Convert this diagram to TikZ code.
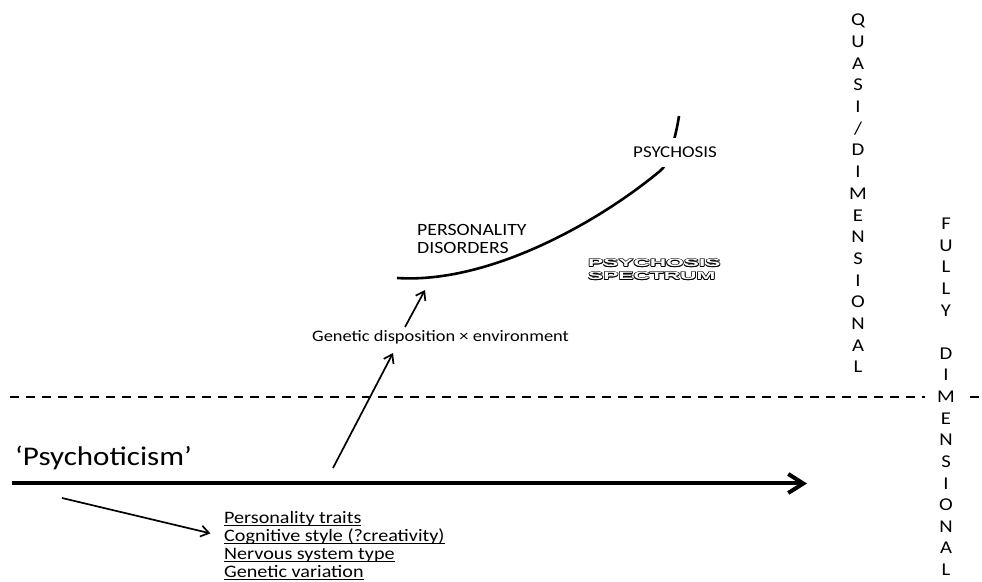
\documentclass[tikz,border=0pt]{standalone}
\usepackage{fontspec}
\setmainfont{Carlito}[FakeStretch=1.15]
\newfontfamily\hollowfont{Liberation Sans}[FakeStretch=2.1]
\usetikzlibrary{arrows.meta}
\newsavebox\ulbox
\newcommand{\uln}[1]{\sbox\ulbox{#1}\rlap{\rule[-2.4pt]{\wd\ulbox}{0.9pt}}\usebox\ulbox}
\tikzset{
	axisline/.style={line width=4pt, -{Straight Barb[length=15pt,width=19pt]}},
	thinarrow/.style={line width=1.7pt, -{Straight Barb[length=8pt,width=11pt]}},
	curveline/.style={line width=2.6pt},
	divider/.style={line width=1.4pt, dash pattern=on 9pt off 7pt},
	lab/.style={inner sep=0pt, font=\fontsize{#1}{#1}\selectfont},
	hollowtxt/.style={inner sep=0pt, anchor=base west, font=\hollowfont\bfseries\fontsize{10.8}{10.8}\selectfont},
	vlet/.style={inner sep=0pt, text height=11.6pt, text depth=0pt, font=\fontsize{18}{18}\selectfont},
}
\begin{document}
\begin{tikzpicture}[x=1pt,y=1pt]
				\useasboundingbox (0,0) rectangle (982,581);
				
				% dashed divider
				\coordinate (dl) at (10,184);
				\coordinate (dr) at (982,184);
				\draw[divider] (dl)--(dr);
				
				% axis
				\coordinate (ax0) at (12,97.5);
				\coordinate (ax1) at (807,97.5);
				\draw[axisline] (ax0)--(ax1);
				\node[lab=27, anchor=base west] (psy) at (15,115) {`Psychoticism'};
				
				% list below the axis
				\foreach \n/\t/\y in
				{per/Personality traits/57.5, cog/Cognitive style (?creativity)/39.5,
				 ner/Nervous system type/21.5, gen/Genetic variation/3.5}{
					\node[lab=17.5, anchor=base west] (\n) at (224,\y) {\uln{\t}};
				}
				\coordinate (ls0) at (62,83);
				\draw[thinarrow, shorten >=14pt] (ls0)--(cog.west);
				
				% upward arrows
				\node[lab=16, anchor=base west] (gxe) at (312,239) {Genetic disposition × environment};
				\coordinate (up0) at (333,113);
				\coordinate (up1) at (393,228);
				\coordinate (up2) at (405,254);
				\coordinate (up3) at (425,291);
				\draw[thinarrow] (up0)--(up1);
				\draw[thinarrow] (up2)--(up3);
				
				% spectrum curve
				\coordinate (cv0) at (397,303);
				\coordinate (cv1) at (679,465);
				\draw[curveline] (cv0) .. controls (490,297) and (600,360) .. (660,410)
					.. controls (667.8,414.8) and (676,445) .. (cv1);
				\node[lab=17.2, anchor=base west] (pd1) at (417,345.5) {PERSONALITY};
				\node[lab=17.2, anchor=base west] (pd2) at (417,327.5) {DISORDERS};
				\node[lab=16.5, anchor=base west, fill=white, inner xsep=2pt, inner ysep=9pt] (pss) at (631,423) {PSYCHOSIS};
				
				% hollow letters
				\foreach \n/\t/\y in {sp1/PSYCHOSIS/314, sp2/SPECTRUM/301}{
					\foreach \dx/\dy [count=\i] in
					{-0.8/0, 0.8/0, 0/-0.8, 0/0.8, -0.6/-0.6, 0.6/0.6, -0.6/0.6, 0.6/-0.6}{
						\node[hollowtxt, xshift=\dx pt, yshift=\dy pt] (\n o\i) at (588,\y) {\t};
					}
					\node[hollowtxt, text=white] (\n) at (588,\y) {\t};
				}
				
				% quasi-dimensional column
				\foreach \l [count=\i from 0] in {Q,U,A,S,I,/,D,I,M,E,N,S,I,O,N,A,L}{
					\node[vlet] (q\i) at (858,{561-21.7*\i}) {\l};
				}
				
				% fully dimensional column
				\foreach \l/\k in
				{F/0,U/1,L/2,L/3,Y/4,D/6,I/7,M/8,E/9,N/10,S/11,I/12,O/13,N/14,A/15,L/16}{
					\node[vlet, fill=white, inner ysep=3pt, inner xsep=12pt] (f\k) at (946,{357-21.6*\k}) {\l};
				}
			\end{tikzpicture}
\end{document}
